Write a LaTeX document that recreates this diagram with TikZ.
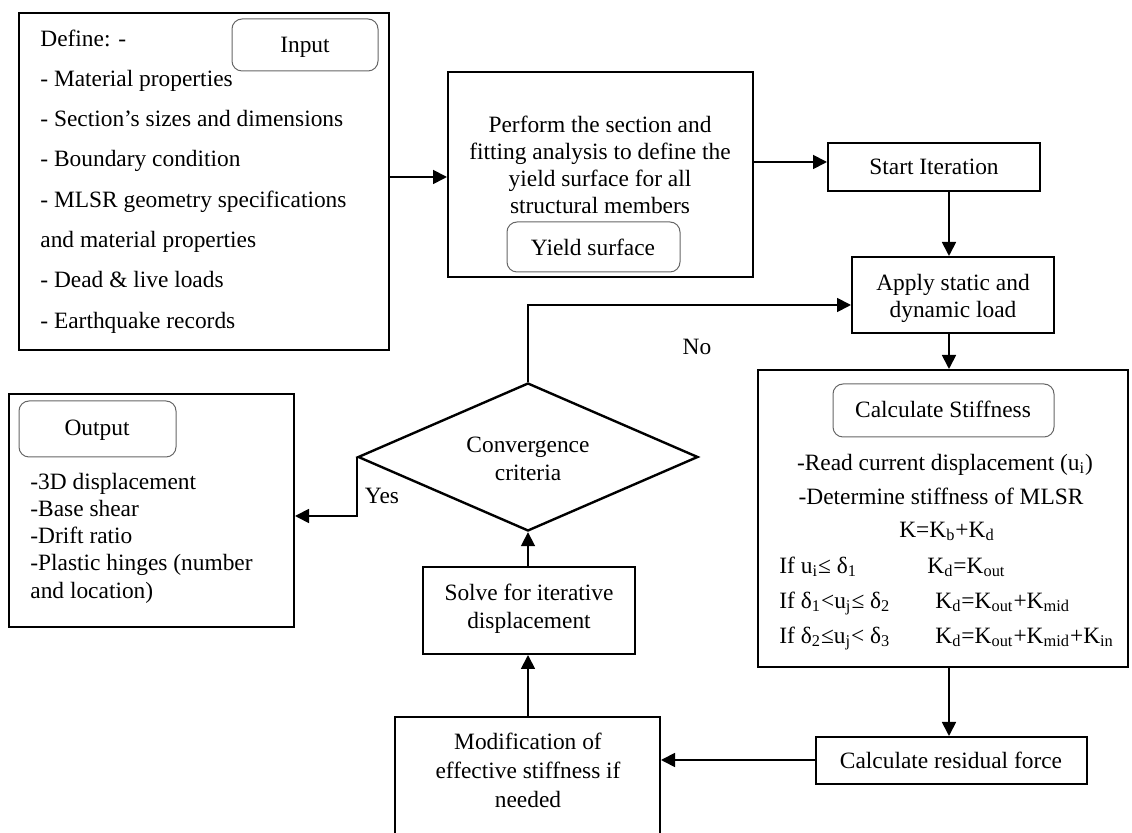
\documentclass[tikz,border=0pt]{standalone}
\usepackage{fontspec}
\setmainfont{Liberation Serif}
\usetikzlibrary{fit,arrows.meta,shapes.geometric}
\begin{document}
\begin{tikzpicture}[x=0.5pt,y=-0.5pt,
  every node/.style={font=\fontsize{11.7}{14}\selectfont},
  box/.style={draw, line width=1pt, inner sep=0pt},
  rbox/.style={draw=black!60, line width=0.5pt, rounded corners=5pt, inner sep=0pt},
  txt/.style={inner sep=0pt, anchor=mid, yshift=-1.3pt},
  ltxt/.style={inner sep=0pt, anchor=mid west, yshift=-1.3pt},
  arr/.style={line width=0.9pt, -{Triangle[length=7pt,width=7pt]}},
  decision/.style={draw, shape=diamond, line width=1.2pt, inner sep=0pt, minimum width=170pt, minimum height=74pt}]
\useasboundingbox (0,0) rectangle (1132,833);

% Input box
\node[box, fit={(19,13)(389,350)}] (input) {};
\node[rbox, fit={(232,19)(378,71)}] (inputlbl) {};
\node[txt] (inputtxt) at (305,45) {Input};
\node[ltxt] (in0) at (40,39) {Define: -};
\node[ltxt] (in1) at (40,79) {- Material properties};
\node[ltxt] (in2) at (40,119) {- Section’s sizes and dimensions};
\node[ltxt] (in3) at (40,159) {- Boundary condition};
\node[ltxt] (in4) at (40,200) {- MLSR geometry specifications};
\node[ltxt] (in5) at (40,240) {and material properties};
\node[ltxt] (in6) at (40,280) {- Dead \& live loads};
\node[ltxt] (in7) at (40,321) {- Earthquake records};

% Perform box
\node[box, fit={(448,72)(753,277)}] (perform) {};
\node[txt] (pf1) at (600,125) {Perform the section and};
\node[txt] (pf2) at (600,152) {fitting analysis to define the};
\node[txt] (pf3) at (600,179) {yield surface for all};
\node[txt] (pf4) at (600,206) {structural members};
\node[rbox, fit={(507,222)(680,272)}] (yieldlbl) {};
\node[txt] (yieldtxt) at (593,248) {Yield surface};

% Start iteration
\node[box, fit={(828,143)(1040,191)}] (start) {};
\node[txt] (starttxt) at (934,167) {Start Iteration};

% Apply load
\node[box, fit={(852,257)(1054,333)}] (apply) {};
\node[txt] (ap1) at (953,283) {Apply static and};
\node[txt] (ap2) at (953,310) {dynamic load};

% Stiffness
\node[box, fit={(758,370)(1128,667)}] (stiff) {};
\node[rbox, fit={(833,384)(1054,437)}] (stifflbl) {};
\node[txt] (stifftxt) at (943,410) {Calculate Stiffness};
\node[txt] (st1) at (945,463) {-Read current displacement (u\textsubscript{i})};
\node[txt] (st2) at (941,497) {-Determine stiffness of MLSR};
\node[txt] (st3) at (947,530) {K=K\textsubscript{b}+K\textsubscript{d}};
\node[ltxt] (st4) at (779,566) {If u\textsubscript{i}≤ δ\textsubscript{1}};
\node[ltxt] (st5) at (779,601) {If δ\textsubscript{1}<u\textsubscript{j}≤ δ\textsubscript{2}};
\node[ltxt] (st6) at (779,636) {If δ\textsubscript{2}≤u\textsubscript{j}< δ\textsubscript{3}};
\node[ltxt] (st7) at (927,566) {K\textsubscript{d}=K\textsubscript{out}};
\node[ltxt] (st8) at (935,601) {K\textsubscript{d}=K\textsubscript{out}+K\textsubscript{mid}};
\node[ltxt] (st9) at (935,636) {K\textsubscript{d}=K\textsubscript{out}+K\textsubscript{mid}+K\textsubscript{in}};

% Residual
\node[box, fit={(816,737)(1087,784)}] (resid) {};
\node[txt] (residtxt) at (951,761) {Calculate residual force};

% Modification
\node[box, fit={(395,717)(660,850)}] (mod) {};
\node[txt] (md1) at (528,742) {Modification of};
\node[txt] (md2) at (528,771) {effective stiffness if};
\node[txt] (md3) at (528,800) {needed};

% Solve
\node[box, fit={(423,567)(635,654)}] (solve) {};
\node[txt] (sv1) at (529,593) {Solve for iterative};
\node[txt] (sv2) at (529,621) {displacement};

% Decision
\node[decision] (diam) at (528,457) {};
\node[txt] (dc1) at (528,445) {Convergence};
\node[txt] (dc2) at (528,473) {criteria};

% Output
\node[box, fit={(9,394)(294,627)}] (output) {};
\node[rbox, fit={(19,401)(176,457)}] (outputlbl) {};
\node[txt] (outputtxt) at (97,428) {Output};
\node[ltxt] (ou1) at (30,482) {-3D displacement};
\node[ltxt] (ou2) at (30,509) {-Base shear};
\node[ltxt] (ou3) at (30,536) {-Drift ratio};
\node[ltxt] (ou4) at (30,563) {-Plastic hinges (number};
\node[ltxt] (ou5) at (30,591) {and location)};

% labels
\node[txt] (yes) at (382,496) {Yes};
\node[txt] (no) at (697,347) {No};

% helper coordinates
\coordinate (r1) at (0,177);
\coordinate (r2) at (0,162);
\coordinate (c1) at (949,0);
\coordinate (r3) at (0,305);
\coordinate (r4) at (0,516);
\coordinate (r5) at (0,760);

% connectors
\draw[arr] (input.east |- r1) -- (perform.west |- r1);
\draw[arr] (perform.east |- r2) -- (start.west |- r2);
\draw[arr] (start.south -| c1) -- (apply.north -| c1);
\draw[arr] (apply.south -| c1) -- (stiff.north -| c1);
\draw[arr] (stiff.south -| c1) -- (resid.north -| c1);
\draw[arr] (resid.west |- r5) -- (mod.east |- r5);
\draw[arr] (mod.north -| diam) -- (solve.south -| diam);
\draw[arr] (solve.north -| diam) -- (diam.south);
\draw[arr] (diam.west) -- (diam.west |- r4) -- (output.east |- r4);
\draw[arr] (diam.north) -- (diam.north |- r3) -- (apply.west |- r3);
\end{tikzpicture}
\end{document}
